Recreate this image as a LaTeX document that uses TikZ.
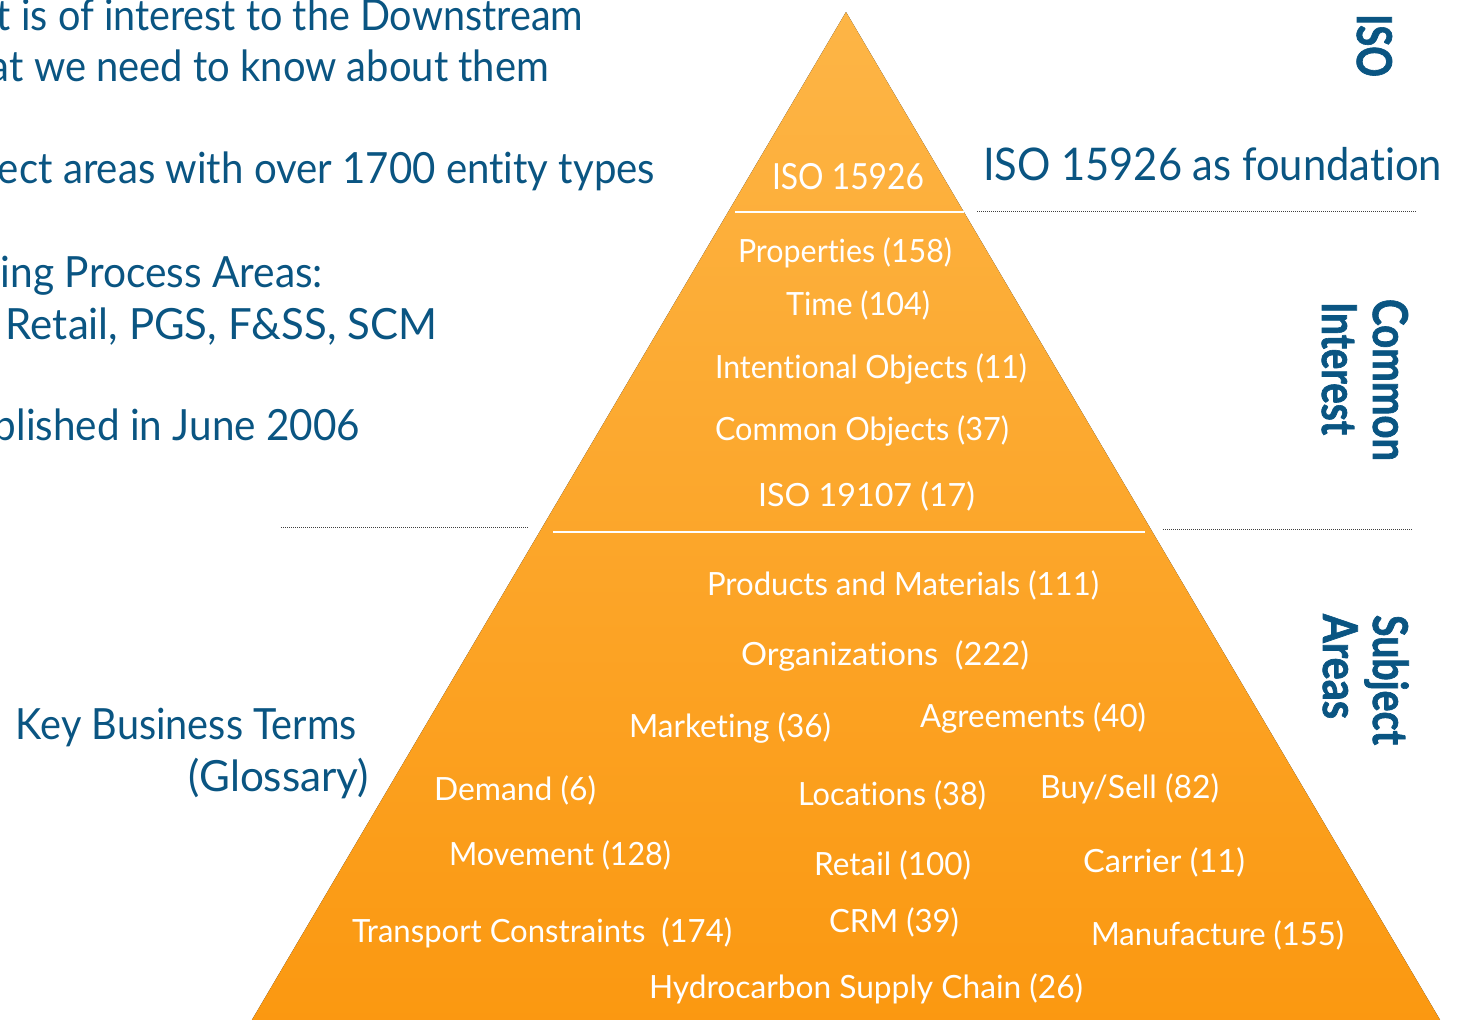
\documentclass[tikz,border=0pt]{standalone}
\usepackage{fontspec}
\setmainfont{Lato}[Ligatures=NoCommon]
\newfontfamily\lblfont{Lato}[Ligatures=NoCommon, BoldFeatures={FakeBold=1.6}]
\usepackage{graphicx}
\definecolor{navy}{RGB}{10,85,130}
\definecolor{orTop}{RGB}{253,181,70}
\definecolor{orBot}{RGB}{251,152,16}
\newcommand{\fitw}[2]{\resizebox{#1}{\height}{#2}}
\begin{document}
\begin{tikzpicture}[x=1pt,y=-1pt,
  wt/.style={text=white, inner sep=0pt, outer sep=0pt, font=\fontsize{32}{36}\selectfont, anchor=base west},
  bt/.style={text=navy, inner sep=0pt, outer sep=0pt, font=\fontsize{43}{48}\selectfont},
  lbl/.style={text=navy, inner sep=0pt, outer sep=0pt, font=\lblfont\fontsize{48}{54}\selectfont\bfseries, rotate=-90, anchor=base west},
  sepline/.style={draw=white, line width=2.5pt},
  dotline/.style={draw=black!75, line width=1pt, dash pattern=on 1pt off 1pt}]
\useasboundingbox (0,0) rectangle (1462,1020);
\clip (0,0) rectangle (1462,1020);
% pyramid
\coordinate (apex) at (846,12);
\coordinate (bl) at (246,1030);
\coordinate (br) at (1446,1030);
\fill[top color=orTop, bottom color=orBot] (apex) -- (br) -- (bl) -- cycle;
% separators
\coordinate (s1a) at (735,212);
\coordinate (s1b) at (964,212);
\draw[sepline] (s1a) -- (s1b);
\coordinate (s2a) at (553,532);
\coordinate (s2b) at (1145,532);
\draw[sepline] (s2a) -- (s2b);
% dotted guide lines
\coordinate (d1a) at (977,211);
\coordinate (d1b) at (1416,211);
\draw[dotline] (d1a) -- (d1b);
\coordinate (d2a) at (281,527);
\coordinate (d2b) at (529,527);
\draw[dotline] (d2a) -- (d2b);
\coordinate (d3a) at (1163,529);
\coordinate (d3b) at (1413,529);
\draw[dotline] (d3a) -- (d3b);
% white texts in the pyramid
\node[wt, font=\fontsize{36}{40}\selectfont] (w1) at (772,189) {\fitw{152pt}{ISO 15926}};
\node[wt] (w2) at (738,262) {\fitw{214pt}{Properties (158)}};
\node[wt] (w3) at (786,315) {\fitw{144pt}{Time (104)}};
\node[wt] (w4) at (715,378) {\fitw{312pt}{Intentional Objects (11)}};
\node[wt] (w5) at (715,440) {\fitw{294pt}{Common Objects (37)}};
\node[wt] (w6) at (758,506) {\fitw{217pt}{ISO 19107 (17)}};
\node[wt] (w7) at (707,595) {\fitw{392pt}{Products and Materials (111)}};
\node[wt] (w8) at (741,665) {\fitw{288pt}{Organizations~~(222)}};
\node[wt] (w9) at (629,737) {\fitw{202pt}{Marketing (36)}};
\node[wt] (w10) at (920,727) {\fitw{226pt}{Agreements (40)}};
\node[wt] (w11) at (434,800) {\fitw{162pt}{Demand (6)}};
\node[wt] (w12) at (798,805) {\fitw{188pt}{Locations (38)}};
\node[wt] (w13) at (1040,798) {\fitw{179pt}{Buy/Sell (82)}};
\node[wt] (w14) at (449,865) {\fitw{222pt}{Movement (128)}};
\node[wt] (w15) at (814,875) {\fitw{157pt}{Retail (100)}};
\node[wt] (w16) at (1083,872) {\fitw{162pt}{Carrier (11)}};
\node[wt] (w17) at (352,942) {\fitw{380pt}{Transport Constraints~~(174)}};
\node[wt] (w18) at (829,932) {\fitw{130pt}{CRM (39)}};
\node[wt] (w19) at (1091,945) {\fitw{253pt}{Manufacture (155)}};
\node[wt] (w20) at (649,998) {\fitw{434pt}{Hydrocarbon Supply Chain (26)}};
% blue texts, left
\node[bt, anchor=base east] (b1) at (583,30) {\fitw{586pt}{t is of interest to the Downstream}};
\node[bt, anchor=base east] (b2) at (549,81) {\fitw{559pt}{at we need to know about them}};
\node[bt, anchor=base east] (b3) at (655,183) {\fitw{657pt}{ect areas with over 1700 entity types}};
\node[bt, anchor=base east] (b4) at (323,287) {\fitw{322pt}{ing Process Areas:}};
\node[bt, anchor=base west] (b5) at (6,339) {\fitw{431pt}{Retail, PGS, F\&SS, SCM}};
\node[bt, anchor=base east] (b6) at (360,440) {\fitw{366pt}{blished in June 2006}};
\node[bt, anchor=base east] (b7) at (357,739) {\fitw{341pt}{Key Business Terms}};
\node[bt, anchor=base east] (b8) at (369,791) {\fitw{180pt}{(Glossary)}};
\node[bt, anchor=base west, font=\fontsize{45}{50}\selectfont] (b9) at (983,180) {\fitw{459pt}{ISO 15926 as foundation}};
% rotated labels, right
\node[lbl] (l1) at (1357,14) {\fitw{63pt}{ISO}};
\node[lbl] (l2) at (1373,299) {\fitw{162pt}{Common}};
\node[lbl] (l3) at (1322,302) {\fitw{133pt}{Interest}};
\node[lbl] (l4) at (1373,615) {\fitw{130pt}{Subject}};
\node[lbl] (l5) at (1323,614) {\fitw{105pt}{Areas}};
\end{tikzpicture}
\end{document}
